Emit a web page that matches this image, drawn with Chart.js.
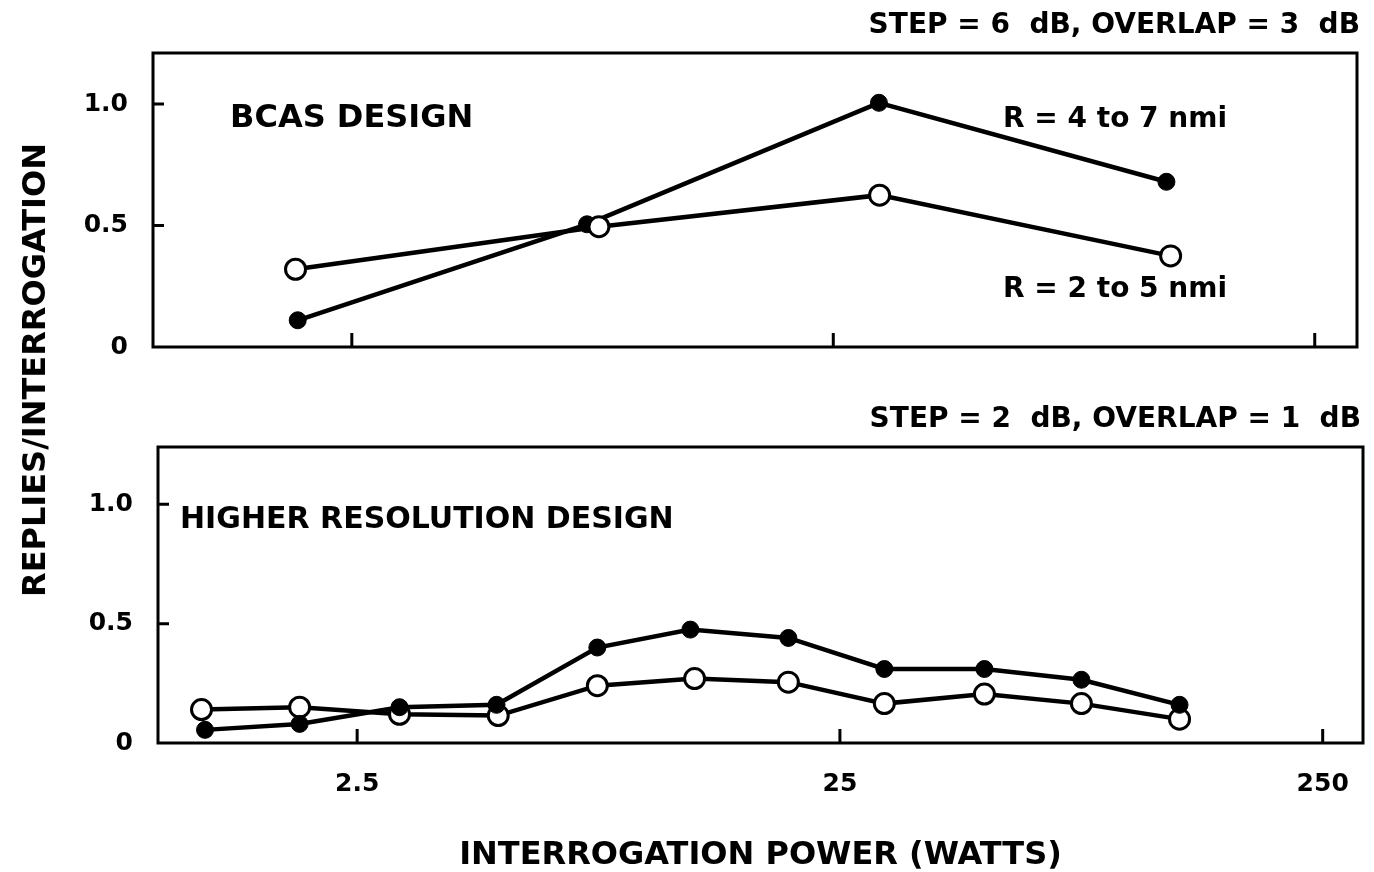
<!DOCTYPE html>
<html>
<head>
<meta charset="utf-8">
<script src="https://cdn.jsdelivr.net/npm/chart.js@4/dist/chart.umd.min.js"></script>
<style>
  body { margin: 0; background: #fff; width: 1374px; height: 872px; position: relative; overflow: hidden; }
  canvas { position: absolute; left: 0; }
  #yTitle {
    position: absolute; left: 34px; top: 370px;
    transform: translate(-50%, -50%) rotate(-90deg);
    font: bold 32px 'DejaVu Sans', sans-serif; line-height: 1;
    white-space: nowrap; color: #000;
  }
</style>
</head>
<body>
<canvas id="chartBcas" width="1374" height="400" style="top:0px"></canvas>
<canvas id="chartHighRes" width="1374" height="472" style="top:400px"></canvas>
<div id="yTitle">REPLIES/INTERROGATION</div>
<script>
// top panel - BCAS design (6 dB steps)
var bcasPowerFilled = [1.93, 7.7, 31.1, 123];
var bcasRepliesFilled = [0.11, 0.505, 1.005, 0.68];
var bcasPowerOpen = [1.91, 8.15, 31.2, 125.5];
var bcasRepliesOpen = [0.32, 0.495, 0.625, 0.375];

// bottom panel - higher resolution design (2 dB steps)
var hiresPowerFilled = [1.21, 1.90, 3.06, 4.86, 7.86, 12.25, 19.55, 30.9, 49.8, 79.1, 126.3];
var hiresRepliesFilled = [0.055, 0.08, 0.15, 0.16, 0.40, 0.475, 0.44, 0.31, 0.31, 0.265, 0.16];
var hiresPowerOpen = [1.19, 1.90, 3.06, 4.90, 7.86, 12.5, 19.55, 30.9, 49.8, 79.1, 126.3];
var hiresRepliesOpen = [0.14, 0.15, 0.12, 0.115, 0.24, 0.27, 0.255, 0.165, 0.205, 0.165, 0.10];

var seriesLabels = ['R = 4 to 7 nmi', 'R = 2 to 5 nmi'];
var xTickValues = [2.5, 25, 250];
var yTickStep = 0.5;

Chart.defaults.font.family = "'DejaVu Sans', sans-serif";
Chart.defaults.font.weight = 'bold';
Chart.defaults.color = '#000';

function toPoints(xs, ys) {
    return xs.map(function(x, i) { return {x: x, y: ys[i]}; });
}

function filledSet(label, xs, ys) {
    return {
        label: label,
        data: toPoints(xs, ys),
        borderColor: '#000',
        borderWidth: 4.5,
        pointRadius: 8.5,
        pointBackgroundColor: '#000',
        pointBorderColor: '#000',
        pointBorderWidth: 1,
        tension: 0
    };
}

function openSet(label, xs, ys) {
    return {
        label: label,
        data: toPoints(xs, ys),
        borderColor: '#000',
        borderWidth: 4.5,
        pointRadius: 10,
        pointBackgroundColor: '#fff',
        pointBorderColor: '#000',
        pointBorderWidth: 3,
        tension: 0
    };
}

// box round the plot + short inward tick marks
var frameTicks = {
    id: 'frameTicks',
    beforeDatasetsDraw: function(chart) {
        var a = chart.chartArea, ctx = chart.ctx;
        var xs = chart.scales.x, ys = chart.scales.y;
        ctx.save();
        ctx.strokeStyle = '#000';
        ctx.lineWidth = 3;
        ctx.strokeRect(a.left, a.top, a.right - a.left, a.bottom - a.top);
        ctx.beginPath();
        ys.ticks.forEach(function(t) {
            if (t.value <= 0) return;
            var py = ys.getPixelForValue(t.value);
            ctx.moveTo(a.left, py);
            ctx.lineTo(a.left + 11, py);
        });
        xs.ticks.forEach(function(t) {
            var px = xs.getPixelForValue(t.value);
            ctx.moveTo(px, a.bottom);
            ctx.lineTo(px, a.bottom - 14);
        });
        ctx.stroke();
        ctx.restore();
    }
};

// free text inside / above the panels
var notes = {
    id: 'notes',
    afterDraw: function(chart, args, opts) {
        var ctx = chart.ctx;
        (opts.items || []).forEach(function(n) {
            ctx.save();
            ctx.font = 'bold ' + n.size + "px 'DejaVu Sans', sans-serif";
            ctx.fillStyle = '#000';
            ctx.textAlign = n.align || 'left';
            ctx.textBaseline = 'alphabetic';
            ctx.fillText(n.text, n.x, n.y);
            ctx.restore();
        });
    }
};

function buildOptions(cfg) {
    return {
        responsive: false,
        animation: false,
        layout: {
            autoPadding: false,
            padding: {left: 0, right: cfg.padRight, top: cfg.padTop, bottom: 0}
        },
        plugins: {
            legend: {display: false},
            tooltip: {enabled: false},
            notes: {items: cfg.notes}
        },
        scales: {
            x: {
                type: 'logarithmic',
                min: cfg.xMin,
                max: cfg.xMax,
                grid: {display: false},
                border: {display: false},
                afterBuildTicks: function(scale) {
                    scale.ticks = xTickValues.map(function(v) { return {value: v}; });
                },
                afterFit: function(scale) {
                    scale.height = cfg.xHeight;
                    scale.paddingLeft = 0;
                    scale.paddingRight = 0;
                },
                ticks: {
                    display: cfg.showXLabels,
                    autoSkip: false,
                    maxRotation: 0,
                    padding: 18,
                    font: {size: 25, weight: 'bold'},
                    callback: function(v) { return String(v); }
                },
                title: {
                    display: cfg.showXTitle,
                    text: 'INTERROGATION POWER (WATTS)',
                    font: {size: 32, weight: 'bold', lineHeight: 1},
                    padding: {top: 0, bottom: 0}
                }
            },
            y: {
                min: 0,
                max: cfg.yMax,
                grid: {display: false},
                border: {display: false},
                afterFit: function(scale) {
                    scale.width = cfg.yWidth;
                    scale.paddingTop = 0;
                    scale.paddingBottom = 0;
                },
                ticks: {
                    stepSize: yTickStep,
                    includeBounds: false,
                    padding: 17,
                    font: {size: 25, weight: 'bold'},
                    callback: function(v) { return v === 0 ? '0' : v.toFixed(1); }
                }
            }
        }
    };
}

var ctxBcas = document.getElementById('chartBcas');
var chartBcas = new Chart(ctxBcas, {
    type: 'line',
    data: {
        datasets: [
            openSet(seriesLabels[1], bcasPowerOpen, bcasRepliesOpen),
            filledSet(seriesLabels[0], bcasPowerFilled, bcasRepliesFilled)
        ]
    },
    options: buildOptions({
        padRight: 17, padTop: 53, xHeight: 53, yWidth: 153,
        xMin: 0.966, xMax: 306, yMax: 1.21,
        showXLabels: false, showXTitle: false,
        notes: [
            {text: 'STEP = 6  dB, OVERLAP = 3  dB', x: 1360, y: 33, size: 28, align: 'right'},
            {text: 'BCAS DESIGN', x: 230, y: 127, size: 32},
            {text: 'R = 4 to 7 nmi', x: 1003, y: 127, size: 28},
            {text: 'R = 2 to 5 nmi', x: 1003, y: 297, size: 28}
        ]
    }),
    plugins: [frameTicks, notes]
});

// ========================================

var ctxHighRes = document.getElementById('chartHighRes');
var chartHighRes = new Chart(ctxHighRes, {
    type: 'line',
    data: {
        datasets: [
            filledSet(seriesLabels[0], hiresPowerFilled, hiresRepliesFilled),
            openSet(seriesLabels[1], hiresPowerOpen, hiresRepliesOpen)
        ]
    },
    options: buildOptions({
        padRight: 11, padTop: 47, xHeight: 129, yWidth: 158,
        xMin: 0.967, xMax: 303, yMax: 1.24,
        showXLabels: true, showXTitle: true,
        notes: [
            {text: 'STEP = 2  dB, OVERLAP = 1  dB', x: 1361, y: 27, size: 28, align: 'right'},
            {text: 'HIGHER RESOLUTION DESIGN', x: 180, y: 128, size: 30}
        ]
    }),
    plugins: [frameTicks, notes]
});
</script>
</body>
</html>
